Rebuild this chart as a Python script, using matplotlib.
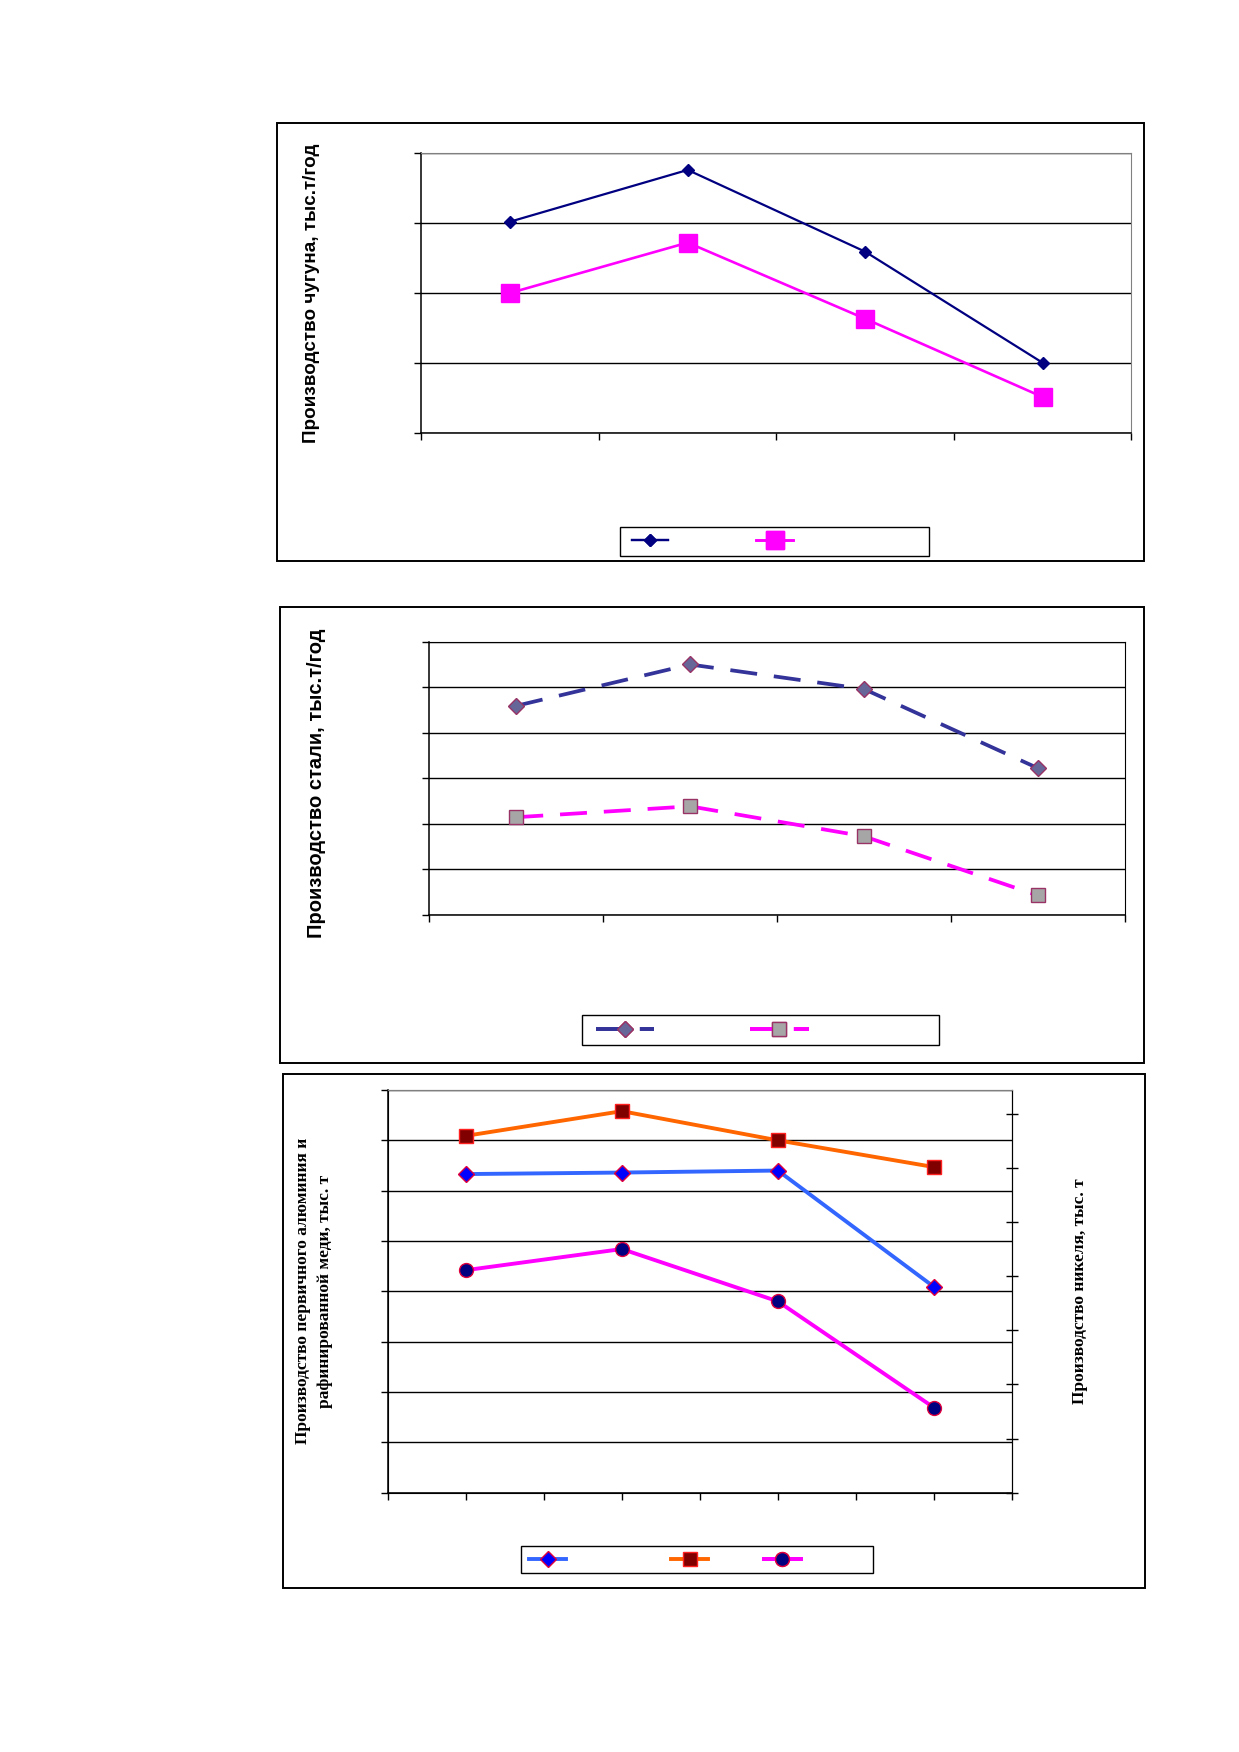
import numpy as np
import matplotlib
matplotlib.use("Agg")
import matplotlib.pyplot as plt
from matplotlib.patches import Rectangle

# --- data (in grid units; the chart has no tick labels) ---
cast_iron_cats = [0, 1, 2, 3]
cast_iron_a = [3.02, 3.76, 2.59, 1.00]
cast_iron_b = [2.00, 2.72, 1.63, 0.51]

steel_cats = [0, 1, 2, 3]
steel_a = [4.59, 5.50, 4.96, 3.22]
steel_b = [2.14, 2.38, 1.72, 0.42]

metal_cats = [0, 1, 2, 3]
metal_blue = [6.33, 6.36, 6.40, 4.09]
metal_orange = [7.09, 7.58, 7.00, 6.47]
metal_magenta = [4.42, 4.84, 3.80, 1.69]

W, H = 1239, 1752
K = 1.118  # layout below was measured on a 1108 px wide view of the page
fig = plt.figure(figsize=(W / 100, H / 100), dpi=100)
fig.patch.set_facecolor("white")


def fx(x):
    return x * K / W


def fy(y):
    return 1 - y * K / H


def axes_px(x0, y0, x1, y1):
    return fig.add_axes([fx(x0), fy(y1), fx(x1) - fx(x0), fy(y0) - fy(y1)])


def frame_px(x0, y0, x1, y1, lw):
    fig.add_artist(Rectangle((fx(x0), fy(y1)), fx(x1) - fx(x0), fy(y0) - fy(y1),
                             transform=fig.transFigure, fill=False,
                             edgecolor="black", linewidth=lw, zorder=0))


def vlabel(x, y, text, **kw):
    fig.text(fx(x), fy(y), text, rotation=90, ha="center", va="center",
             fontweight="bold", **kw)


def style_axes(ax, top_col, right_col):
    ax.tick_params(labelleft=False, labelbottom=False, length=5, width=1,
                   color="black", direction="out")
    ax.grid(axis="y", color="black", linewidth=1)
    ax.set_axisbelow(True)
    for side in ["left", "bottom"]:
        ax.spines[side].set_color("black")
        ax.spines[side].set_linewidth(1.1)
    ax.spines["top"].set_color(top_col)
    ax.spines["right"].set_color(right_col)


def legend_px(ax, x, y, handlelength, columnspacing, ncol, handles=None):
    kw = {}
    if handles is not None:
        kw = {"handles": handles, "labels": [" "] * len(handles)}
    leg = ax.legend(ncol=ncol, frameon=False, loc="center left",
                    bbox_to_anchor=(fx(x), fy(y)), bbox_transform=fig.transFigure,
                    borderpad=0, borderaxespad=0, handletextpad=0,
                    handlelength=handlelength, columnspacing=columnspacing,
                    fontsize=10, **kw)
    ax.add_artist(leg)
    return leg


# ---------------- panel 1: cast iron ----------------
frame_px(248, 110, 1023, 502, 1.4)
ax1 = axes_px(377, 137, 1012, 387)
ax1.plot(cast_iron_cats, cast_iron_a, color="#000080", linewidth=1.6,
         marker="D", markersize=6, markerfacecolor="#000080",
         markeredgecolor="#000080", label=" ")
ax1.plot(cast_iron_cats, cast_iron_b, color="#FF00FF", linewidth=1.9,
         marker="s", markersize=13, markerfacecolor="#FF00FF",
         markeredgecolor="#FF00FF", label=" ")
ax1.set_xlim(-0.5, 3.5)
ax1.set_ylim(0, 4)
ax1.set_xticks(np.arange(-0.5, 3.6, 1))
ax1.set_yticks(np.arange(0, 5, 1))
style_axes(ax1, "#808080", "#808080")
vlabel(279, 262, "Производство чугуна, тыс.т/год", fontsize=13.6,
       family="Liberation Sans")
frame_px(555, 471, 831, 497, 1.0)
legend_px(ax1, 565, 484, 2.65, 6.0, 2)

# ---------------- panel 2: steel ----------------
frame_px(250, 543, 1023, 951, 1.4)
ax2 = axes_px(384, 574, 1006, 818)
ax2.plot(steel_cats, steel_a, color="#333399", linewidth=2.7,
         dashes=(7.2, 4.5), marker="D", markersize=8.5,
         markerfacecolor="#666699", markeredgecolor="#993366",
         markeredgewidth=1, label=" ")
ax2.plot(steel_cats, steel_b, color="#FF00FF", linewidth=2.7,
         dashes=(7.2, 4.5), marker="s", markersize=9.5,
         markerfacecolor="#A6A6A6", markeredgecolor="#993366",
         markeredgewidth=1, label=" ")
ax2.set_xlim(-0.5, 3.5)
ax2.set_ylim(0, 6)
ax2.set_xticks(np.arange(-0.5, 3.6, 1))
ax2.set_yticks(np.arange(0, 7, 1))
style_axes(ax2, "black", "black")
vlabel(283, 701, "Производство стали, тыс.т/год", fontsize=14.5,
       family="Liberation Sans")
frame_px(521, 908, 840, 935, 1.0)
legend_px(ax2, 533, 921, 4.2, 6.6, 2)

# ---------------- panel 3: aluminium, copper, nickel ----------------
frame_px(253, 961, 1024, 1420, 1.4)
ax3 = axes_px(347, 975, 905, 1335)
l_blue, = ax3.plot(metal_cats, metal_blue, color="#3366FF", linewidth=2.8,
                   marker="D", markersize=8, markerfacecolor="#0000FF",
                   markeredgecolor="#E0003C", markeredgewidth=1)
l_orange, = ax3.plot(metal_cats, metal_orange, color="#FF6600", linewidth=2.8,
                     marker="s", markersize=10.5, markerfacecolor="#800000",
                     markeredgecolor="#FF2020", markeredgewidth=1)
l_magenta, = ax3.plot(metal_cats, metal_magenta, color="#FF00FF", linewidth=2.8,
                      marker="o", markersize=10, markerfacecolor="#000080",
                      markeredgecolor="#E0003C", markeredgewidth=1)
ax3.set_xlim(-0.5, 3.5)
ax3.set_ylim(0, 8)
ax3.set_xticks(np.arange(-0.5, 3.6, 0.5))
ax3.set_yticks(np.arange(0, 9, 1))
style_axes(ax3, "#808080", "black")

ax3r = ax3.twinx()
ax3r.set_ylim(0, 7.45)
ax3r.set_yticks(np.arange(0, 8, 1))
ax3r.tick_params(labelright=False, length=8, width=1, direction="inout",
                 color="black")
ax3r.spines["right"].set_color("black")
ax3r.spines["top"].set_color("#808080")

vlabel(281, 1155, "Производство первичного алюминия и\nрафинированной меди, тыс. т",
       fontsize=12.5, family="Liberation Serif", linespacing=1.5)
vlabel(966, 1155, "Производство никеля, тыс. т", fontsize=12.5,
       family="Liberation Serif")
frame_px(466, 1383, 781, 1407, 1.0)
# legend entries sit at uneven spacing (their texts are missing), one legend each
for handle, hx in zip([l_blue, l_orange, l_magenta], [473, 600, 683]):
    legend_px(ax3, hx, 1395, 2.7, 0, 1, handles=[handle])

fig.savefig("out.png", dpi=100)
